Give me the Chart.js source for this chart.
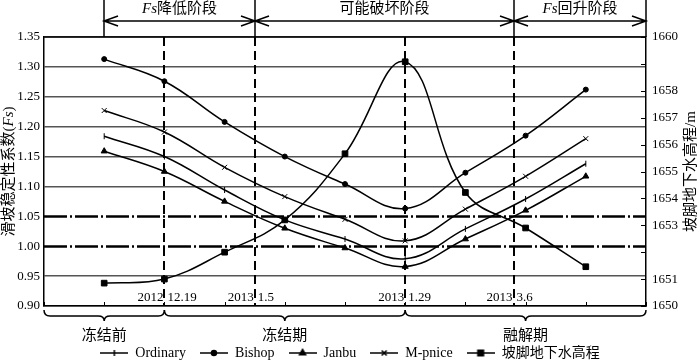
<!DOCTYPE html>
<html>
<head>
<meta charset="utf-8">
<script src="https://cdn.jsdelivr.net/npm/chart.js"></script>
<style>
html, body { margin: 0; padding: 0; background: #fff; }
</style>
</head>
<body>
<canvas id="fs-chart" width="700" height="362"></canvas>
<script>
// sample stages along the x axis (0..10 frame, points at 1..9)
var stageIdx = [1, 2, 3, 4, 5, 6, 7, 8, 9];
var ordinary = [1.184, 1.150, 1.094, 1.044, 1.012, 0.979, 1.029, 1.079, 1.138];
var bishop = [1.313, 1.276, 1.208, 1.150, 1.104, 1.063, 1.123, 1.185, 1.262];
var janbu = [1.159, 1.125, 1.075, 1.030, 0.997, 0.966, 1.012, 1.060, 1.117];
var mpnice = [1.227, 1.191, 1.132, 1.083, 1.045, 1.009, 1.062, 1.117, 1.180];
var waterLevel = [1650.85, 1651.0, 1652.0, 1653.2, 1655.66, 1659.08, 1654.22, 1652.9, 1651.46];

var fsTicks = [0.90, 0.95, 1.00, 1.05, 1.10, 1.15, 1.20, 1.25, 1.30, 1.35];
var elevTickLabels = [1650, 1651, 1653, 1654, 1655, 1656, 1657, 1658, 1660];
var refLines = [1.05, 1.00];

var dateYears = ['2012', '2013', '2013', '2013'];
var dateDays = ['12.19', '1.5', '1.29', '3.6'];
var datePos = [2, 3.5, 6, 7.8];

var phaseNames = ['Fs降低阶段', '可能破坏阶段', 'Fs回升阶段'];
var phaseBounds = [1, 3.5, 7.8, 10];

var periodNames = ['冻结前', '冻结期', '融解期'];
var periodBounds = [0, 2, 6, 10];
var periodMid = [1, 4, 8];

var seriesNames = ['Ordinary', 'Bishop', 'Janbu', 'M-pnice', '坡脚地下水高程'];

var SERIF = '"Liberation Serif", "Noto Sans CJK SC"';

function toPoints(vals) {
    return stageIdx.map(function(x, i) { return { x: x, y: vals[i] }; });
}

function makeSeries(label, vals, style, radius, rotation, axis) {
    return {
        label: label,
        data: toPoints(vals),
        yAxisID: axis,
        borderColor: '#000',
        backgroundColor: '#000',
        borderWidth: 1.5,
        tension: 0.4,
        pointStyle: style,
        pointRadius: radius,
        pointRotation: rotation,
        pointBackgroundColor: '#000',
        pointBorderColor: '#000',
        pointBorderWidth: 1,
        fill: false
    };
}

function legendIcon(ds) {
    var c = document.createElement('canvas');
    c.width = 28; c.height = 10;
    var g = c.getContext('2d');
    g.strokeStyle = '#000'; g.fillStyle = '#000'; g.lineWidth = 1.5;
    g.beginPath(); g.moveTo(0, 5); g.lineTo(28, 5); g.stroke();
    Chart.helpers.drawPoint(g, {
        pointStyle: ds.pointStyle, radius: ds.pointRadius,
        rotation: ds.pointRotation, borderWidth: 1
    }, 14, 5);
    return c;
}

function drawRich(ctx, parts, cx, cy, rot) {
    ctx.save();
    ctx.translate(cx, cy);
    ctx.rotate(rot);
    ctx.textBaseline = 'middle';
    ctx.textAlign = 'left';
    var total = 0;
    parts.forEach(function(p) { ctx.font = p.font; p.w = ctx.measureText(p.t).width; total += p.w; });
    var x = -total / 2;
    parts.forEach(function(p) { ctx.font = p.font; ctx.fillText(p.t, x, 0); x += p.w; });
    ctx.restore();
}

function fsParts(name, size) {
    if (name.indexOf('Fs') === 0) {
        return [{ t: 'Fs', font: 'italic ' + size + 'px "Liberation Serif"' },
                { t: name.slice(2), font: size + 'px ' + SERIF }];
    }
    return [{ t: name, font: size + 'px ' + SERIF }];
}

function sameVal(a, b) { return Math.abs(a - b) < 1e-6; }

var decorPlugin = {
    id: 'decor',
    beforeDatasetsDraw: function(chart) {
        var ctx = chart.ctx, a = chart.chartArea;
        var xs = chart.scales.x, ys = chart.scales.y;
        ctx.save();
        ctx.strokeStyle = '#000';
        // dash-dot reference lines
        ctx.lineWidth = 2.5;
        ctx.setLineDash([23, 3, 2, 3]);
        refLines.forEach(function(v) {
            var py = Math.round(ys.getPixelForValue(v)) + 0.5;
            ctx.beginPath(); ctx.moveTo(a.left, py); ctx.lineTo(a.right, py); ctx.stroke();
        });
        // dashed date markers
        ctx.lineWidth = 2;
        ctx.setLineDash([9, 5]);
        datePos.forEach(function(v) {
            var px = Math.round(xs.getPixelForValue(v));
            ctx.beginPath(); ctx.moveTo(px, a.top); ctx.lineTo(px, a.bottom); ctx.stroke();
        });
        ctx.restore();
    },
    afterDraw: function(chart) {
        var ctx = chart.ctx, a = chart.chartArea;
        var xs = chart.scales.x, yr = chart.scales.y1;
        ctx.save();
        ctx.strokeStyle = '#000';
        ctx.fillStyle = '#000';
        ctx.lineWidth = 1.5;
        ctx.setLineDash([]);

        // top frame
        ctx.beginPath(); ctx.moveTo(a.left, a.top); ctx.lineTo(a.right, a.top); ctx.stroke();

        // inward ticks on right axis
        ctx.lineWidth = 1;
        yr.ticks.forEach(function(t) {
            var py = Math.round(yr.getPixelForValue(t.value)) + 0.5;
            ctx.beginPath(); ctx.moveTo(a.right - 5, py); ctx.lineTo(a.right, py); ctx.stroke();
        });
        // inward ticks on x axis
        xs.ticks.forEach(function(t) {
            var px = Math.round(xs.getPixelForValue(t.value)) + 0.5;
            ctx.beginPath(); ctx.moveTo(px, a.bottom - 4); ctx.lineTo(px, a.bottom); ctx.stroke();
        });

        // date labels beside dashed markers
        ctx.font = '13px "Liberation Serif"';
        ctx.textBaseline = 'middle';
        datePos.forEach(function(v, i) {
            var px = xs.getPixelForValue(v);
            ctx.textAlign = 'right';
            ctx.fillText(dateYears[i], px - 1, a.bottom - 8);
            ctx.textAlign = 'left';
            ctx.fillText(dateDays[i], px + 3, a.bottom - 8);
        });

        // stage header with double arrows
        ctx.lineWidth = 1.5;
        var ay = 21;
        phaseBounds.forEach(function(v) {
            var px = Math.round(xs.getPixelForValue(v));
            ctx.beginPath(); ctx.moveTo(px, 0); ctx.lineTo(px, a.top); ctx.stroke();
        });
        for (var i = 0; i < phaseNames.length; i++) {
            var x1 = Math.round(xs.getPixelForValue(phaseBounds[i]));
            var x2 = Math.round(xs.getPixelForValue(phaseBounds[i + 1]));
            ctx.beginPath();
            ctx.moveTo(x1, ay); ctx.lineTo(x2, ay);
            ctx.moveTo(x1 + 14, ay - 5); ctx.lineTo(x1, ay); ctx.lineTo(x1 + 14, ay + 5);
            ctx.moveTo(x2 - 14, ay - 5); ctx.lineTo(x2, ay); ctx.lineTo(x2 - 14, ay + 5);
            ctx.stroke();
            drawRich(ctx, fsParts(phaseNames[i], 15), (x1 + x2) / 2, 9, 0);
        }

        // braces below the x axis
        var by = a.bottom + 10;
        for (var j = 0; j < periodNames.length; j++) {
            var bx1 = xs.getPixelForValue(periodBounds[j]);
            var bx2 = xs.getPixelForValue(periodBounds[j + 1]);
            var bm = xs.getPixelForValue(periodMid[j]);
            ctx.beginPath();
            ctx.moveTo(bx1, by - 6);
            ctx.quadraticCurveTo(bx1, by, bx1 + 6, by);
            ctx.lineTo(bm - 6, by);
            ctx.quadraticCurveTo(bm, by, bm, by + 5);
            ctx.quadraticCurveTo(bm, by, bm + 6, by);
            ctx.lineTo(bx2 - 6, by);
            ctx.quadraticCurveTo(bx2, by, bx2, by - 6);
            ctx.stroke();
            drawRich(ctx, [{ t: periodNames[j], font: '15px ' + SERIF }], bm, by + 20, 0);
        }

        // axis titles
        drawRich(ctx, [{ t: '滑坡稳定性系数(', font: '15px ' + SERIF },
                       { t: 'Fs', font: 'italic 15px "Liberation Serif"' },
                       { t: ')', font: '15px ' + SERIF }], 9, (a.top + a.bottom) / 2, -Math.PI / 2);
        drawRich(ctx, [{ t: '坡脚地下水高程/m', font: '15px ' + SERIF }], 691, (a.top + a.bottom) / 2, -Math.PI / 2);
        ctx.restore();
    }
};

var datasets = [
    makeSeries(seriesNames[0], ordinary, 'line', 3, 90, 'y'),
    makeSeries(seriesNames[1], bishop, 'circle', 2.5, 0, 'y'),
    makeSeries(seriesNames[2], janbu, 'triangle', 3.5, 0, 'y'),
    makeSeries(seriesNames[3], mpnice, 'crossRot', 3.5, 0, 'y'),
    makeSeries(seriesNames[4], waterLevel, 'rect', 4, 0, 'y1')
];

var ctx = document.getElementById('fs-chart').getContext('2d');
new Chart(ctx, {
    type: 'line',
    data: { datasets: datasets },
    plugins: [decorPlugin],
    options: {
        responsive: false,
        animation: false,
        devicePixelRatio: 1,
        layout: { padding: { top: 37, left: 0, right: 0, bottom: 0 } },
        plugins: {
            tooltip: { enabled: false },
            legend: {
                position: 'bottom',
                maxHeight: 30,
                labels: {
                    usePointStyle: true,
                    pointStyleWidth: 28,
                    padding: 14,
                    color: '#000',
                    font: { family: SERIF, size: 14 },
                    generateLabels: function(chart) {
                        return chart.data.datasets.map(function(ds, i) {
                            return {
                                text: ds.label,
                                pointStyle: legendIcon(ds),
                                fontColor: '#000',
                                lineWidth: 0,
                                datasetIndex: i
                            };
                        });
                    }
                }
            }
        },
        scales: {
            x: {
                type: 'linear',
                min: 0,
                max: 10,
                ticks: { display: false, stepSize: 1 },
                grid: { display: false },
                border: { display: true, color: '#000', width: 1.5 },
                afterFit: function(scale) {
                    var lg = scale.chart.legend ? scale.chart.legend.height : 30;
                    scale.height = scale.chart.height - 306 - lg;
                }
            },
            y: {
                position: 'left',
                min: 0.9,
                max: 1.35,
                afterBuildTicks: function(scale) {
                    scale.ticks = fsTicks.map(function(v) { return { value: v }; });
                },
                ticks: {
                    color: '#000',
                    padding: 4,
                    font: { family: '"Liberation Serif"', size: 13 },
                    callback: function(v) { return Number(v).toFixed(2); }
                },
                grid: {
                    drawTicks: false,
                    color: '#555',
                    lineWidth: function(c) {
                        if (!c.tick) return 1.5;
                        var hit = refLines.some(function(r) { return sameVal(r, c.tick.value); });
                        return hit ? 0 : 1.5;
                    }
                },
                border: { color: '#000', width: 1.5 },
                afterFit: function(scale) { scale.width = 44; }
            },
            y1: {
                position: 'right',
                min: 1650,
                max: 1660,
                ticks: {
                    stepSize: 1,
                    color: '#000',
                    padding: 6,
                    font: { family: '"Liberation Serif"', size: 13 },
                    callback: function(v) { return elevTickLabels.indexOf(v) >= 0 ? String(v) : ''; }
                },
                grid: { drawOnChartArea: false, drawTicks: false },
                border: { color: '#000', width: 1.5 },
                afterFit: function(scale) { scale.width = 54; }
            }
        }
    }
});
</script>
</body>
</html>
